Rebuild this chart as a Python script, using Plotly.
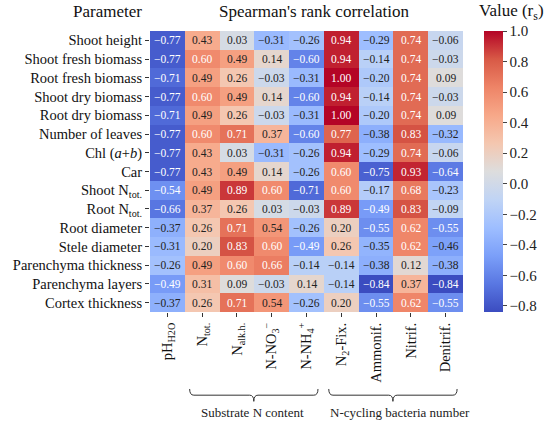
import numpy as np
import plotly.graph_objects as go

# rows (plant parameters) and columns (soil / bacteria variables)
params = ["Shoot height", "Shoot fresh biomass", "Root fresh biomass", "Shoot dry biomass",
          "Root dry biomass", "Number of leaves", "Chl (<i>a</i>+<i>b</i>)", "Car",
          "Shoot N<sub>tot.</sub>", "Root N<sub>tot.</sub>", "Root diameter", "Stele diameter",
          "Parenchyma thickness", "Parenchyma layers", "Cortex thickness"]
variables = ["pH<sub>H2O</sub>", "N<sub>tot.</sub>", "N<sub>alk.h.</sub>", "N-NO<sub>3</sub><sup>−</sup>",
             "N-NH<sub>4</sub><sup>+</sup>", "N<sub>2</sub>-Fix.", "Ammonif.", "Nitrif.", "Denitrif."]

ph_h2o   = [-0.77, -0.77, -0.71, -0.77, -0.71, -0.77, -0.77, -0.77, -0.54, -0.66, -0.37, -0.31, -0.26, -0.49, -0.37]
n_tot    = [0.43, 0.60, 0.49, 0.60, 0.49, 0.60, 0.43, 0.43, 0.49, 0.37, 0.26, 0.20, 0.49, 0.31, 0.26]
n_alk    = [0.03, 0.49, 0.26, 0.49, 0.26, 0.71, 0.03, 0.49, 0.89, 0.26, 0.71, 0.83, 0.60, 0.09, 0.71]
n_no3    = [-0.31, 0.14, -0.03, 0.14, -0.03, 0.37, -0.31, 0.14, 0.60, 0.03, 0.54, 0.60, 0.66, -0.03, 0.54]
n_nh4    = [-0.26, -0.60, -0.31, -0.60, -0.31, -0.60, -0.26, -0.26, -0.71, -0.03, -0.26, -0.49, -0.14, 0.14, -0.26]
n2_fix   = [0.94, 0.94, 1.00, 0.94, 1.00, 0.77, 0.94, 0.60, 0.60, 0.89, 0.20, 0.26, -0.14, -0.14, 0.20]
ammonif  = [-0.29, -0.14, -0.20, -0.14, -0.20, -0.38, -0.29, -0.75, -0.17, -0.49, -0.55, -0.35, -0.38, -0.84, -0.55]
nitrif   = [0.74, 0.74, 0.74, 0.74, 0.74, 0.83, 0.74, 0.93, 0.68, 0.83, 0.62, 0.62, 0.12, 0.37, 0.62]
denitrif = [-0.06, -0.03, 0.09, -0.03, 0.09, -0.32, -0.06, -0.64, -0.23, -0.09, -0.55, -0.46, -0.38, -0.84, -0.55]

# group label, first col, last col, label shift (in columns)
groups = [("Substrate N content", 1, 4, -0.05), ("N-cycling bacteria number", 5, 8, 0.2)]

z = np.array([ph_h2o, n_tot, n_alk, n_no3, n_nh4, n2_fix, ammonif, nitrif, denitrif]).T
zmin, zmax = float(z.min()), float(z.max())

coolwarm = [
    [0.0, "rgb(59,76,192)"], [0.1, "rgb(89,119,226)"], [0.2, "rgb(123,159,249)"],
    [0.3, "rgb(158,190,255)"], [0.4, "rgb(192,212,245)"], [0.5, "rgb(221,221,221)"],
    [0.6, "rgb(244,199,176)"], [0.7, "rgb(247,168,137)"], [0.8, "rgb(238,132,103)"],
    [0.9, "rgb(216,89,70)"], [1.0, "rgb(180,4,38)"],
]

FONT = "Liberation Serif"
nr, nc = z.shape

fig = go.Figure(go.Heatmap(
    z=z, x=list(range(nc)), y=list(range(nr)),
    colorscale=coolwarm, zmin=zmin, zmax=zmax,
    hoverinfo="skip",
    colorbar=dict(x=1.067, xanchor="left", y=0.5, len=1.0, lenmode="fraction",
                  thickness=19, outlinewidth=0, xpad=0, ypad=0,
                  ticks="outside", ticklen=4,
                  tickvals=[-0.8, -0.6, -0.4, -0.2, 0.0, 0.2, 0.4, 0.6, 0.8, 1.0],
                  tickformat=".1f", tickfont=dict(family=FONT, size=15, color="#222")),
))

annots = []
for i in range(nr):
    for j in range(nc):
        v = z[i, j]
        col = "white" if (v >= 0.55 or v <= -0.47) else "#222"
        annots.append(dict(x=j, y=i, xref="x", yref="y", showarrow=False,
                           text=f"{v:.2f}".replace("-", "−"),
                           font=dict(family=FONT, size=11.5, color=col)))

# header texts
for txt, xp in [("Parameter", -0.136), ("Spearman's rank correlation", 0.525),
                ("Value (r<sub>s</sub>)", 1.155)]:
    annots.append(dict(x=xp, y=1.068, xref="paper", yref="paper", showarrow=False,
                       xanchor="center", yanchor="middle", text=txt,
                       font=dict(family=FONT, size=17, color="#111")))

shapes = []
ytop, ybot = -0.274, -0.318
for label, c0, c1, shift in groups:
    x0, x1 = c0 - 0.36, c1 + 0.33
    xm = (x0 + x1) / 2
    ym = (ytop + ybot) / 2
    d = 0.12
    path = (f"M {x0},{ytop} Q {x0},{ym} {x0 + d},{ym} L {xm - d},{ym} "
            f"Q {xm},{ym} {xm},{ybot} Q {xm},{ym} {xm + d},{ym} "
            f"L {x1 - d},{ym} Q {x1},{ym} {x1},{ytop}")
    shapes.append(dict(type="path", path=path, xref="x", yref="paper",
                       line=dict(color="#333", width=1)))
    annots.append(dict(x=xm + shift, y=-0.356, xref="x", yref="paper", showarrow=False,
                       xanchor="center", yanchor="middle", text=label,
                       font=dict(family=FONT, size=13, color="#222")))

fig.update_layout(
    width=550, height=423,
    margin=dict(l=150, r=84, t=31, b=111),
    paper_bgcolor="white", plot_bgcolor="white",
    annotations=annots, shapes=shapes,
    xaxis=dict(tickvals=list(range(nc)), ticktext=variables, tickangle=-90,
               range=[-0.5, nc - 0.5], showgrid=False, zeroline=False, automargin=False,
               ticks="outside", ticklen=4, tickcolor="#333",
               tickfont=dict(family=FONT, size=14.5, color="#111")),
    yaxis=dict(tickvals=list(range(nr)), ticktext=params, autorange=False,
               range=[nr - 0.5, -0.5], showgrid=False, zeroline=False, automargin=False,
               ticks="outside", ticklen=4, tickcolor="#333",
               tickfont=dict(family=FONT, size=14.5, color="#111")),
)

# drop the default 8px page margin so the whole figure fits the window
fig.write_html("out.html", config={"displayModeBar": False},
               post_script="document.body.style.margin='0';")
